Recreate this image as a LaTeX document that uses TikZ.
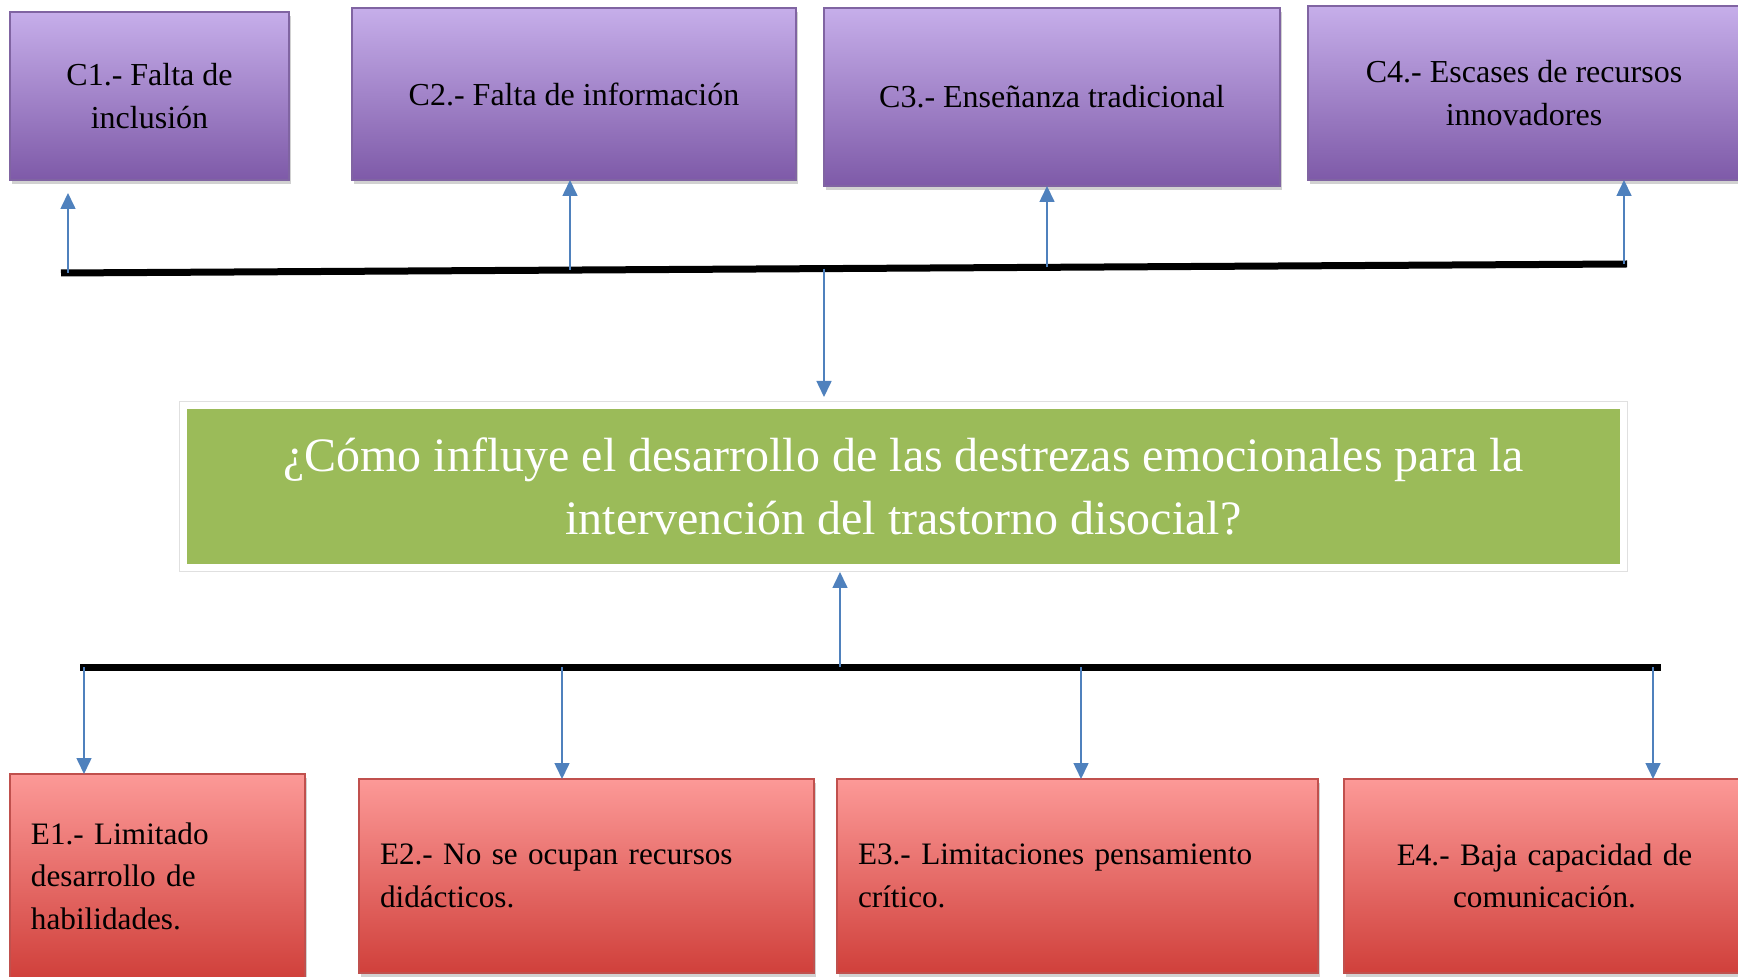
\documentclass[tikz,border=0pt]{standalone}
\usepackage{fontspec}
\setmainfont{Liberation Serif}
\usetikzlibrary{arrows.meta,shadows}
\definecolor{causetop}{HTML}{C6AEEA}
\definecolor{causebot}{HTML}{7E5AA8}
\definecolor{causeline}{HTML}{8064A2}
\definecolor{effecttop}{HTML}{FC9997}
\definecolor{effectbot}{HTML}{D0403B}
\definecolor{effectline}{HTML}{C0504D}
\definecolor{problemgreen}{HTML}{9BBB59}
\definecolor{arrowblue}{HTML}{4F81BD}
\tikzset{
  box/.style={rectangle, inner sep=0pt, outer sep=0pt, line width=0.75pt,
    font=\fontsize{16}{21.5}\selectfont,
    drop shadow={shadow xshift=0.8pt, shadow yshift=-2pt, opacity=0.3, fill=black!60}},
  cause/.style={box, draw=causeline, top color=causetop, bottom color=causebot, align=center},
  effect/.style={box, draw=effectline, top color=effecttop, bottom color=effectbot,
    align=left, inner xsep=10.5pt, font=\fontsize{15.6}{21.2}\selectfont},
  problem/.style={rectangle, inner sep=0pt, outer sep=0pt, draw=white, line width=3.5pt,
    preaction={draw=black!12, line width=4.3pt},
    fill=problemgreen, text=white, align=center, font=\fontsize{24}{31.5}\selectfont,
    drop shadow={shadow xshift=0.6pt, shadow yshift=-2pt, opacity=0.25}},
  bar/.style={line width=3.5pt, black},
  arr/.style={draw=arrowblue, line width=0.8pt, -{Triangle[width=7.5pt,length=8pt]}}
}
\begin{document}
\begin{tikzpicture}[x=0.5pt, y=-0.5pt]
  \clip (0,0) rectangle (1738,977);
  \node[cause, minimum width=139.5pt, minimum height=84pt] (c1) at (149.5,96) {C1.- Falta de\\inclusión};
  \node[cause, minimum width=222pt, minimum height=86pt] (c2) at (574,94) {C2.- Falta de información};
  \node[cause, minimum width=228pt, minimum height=89pt] (c3) at (1052,97) {C3.- Enseñanza tradicional};
  \node[cause, minimum width=216pt, minimum height=87pt] (c4) at (1524,93) {C4.- Escases de recursos\\innovadores};

  \node[problem, minimum width=720pt, minimum height=81pt] (p) at (903.5,486.5)
    {¿Cómo influye el desarrollo de las destrezas emocionales para la\\intervención del trastorno disocial?};

  \node[effect, text width=126.5pt, minimum height=102pt] (e1) at (157.5,876) {E1.- Limitado\\desarrollo de\\habilidades.};
  \node[effect, text width=206.5pt, minimum height=97pt] (e2) at (586.5,876) {E2.- No se ocupan recursos\\didácticos.};
  \node[effect, text width=219.5pt, minimum height=97pt] (e3) at (1077.5,876) {E3.- Limitaciones pensamiento\\crítico.};
  \node[effect, align=center, text width=179.5pt, minimum height=97pt] (e4) at (1544.5,876) {E4.- Baja capacidad de\\comunicación.};

  \coordinate (tl) at (61,273);
  \coordinate (tr) at (1627,264);
  \coordinate (a1) at (68,273);
  \coordinate (a2) at (570,270);
  \coordinate (a3) at (1047,267.3);
  \coordinate (a4) at (1624,264);
  \coordinate (m1) at (824,268.6);
  \draw[bar] (tl) -- (tr);
  \draw[arr, shorten >=6.5pt] (a1) -- (a1 |- c1.south);
  \draw[arr] (a2) -- (a2 |- c2.south);
  \draw[arr] (a3) -- (a3 |- c3.south);
  \draw[arr] (a4) -- (a4 |- c4.south);
  \draw[arr, shorten >=4.25pt] (m1) -- (m1 |- p.north);

  \coordinate (bl) at (80,667);
  \coordinate (br) at (1661,667);
  \coordinate (m2) at (840,667);
  \coordinate (b1) at (84,667);
  \coordinate (b2) at (562,667);
  \coordinate (b3) at (1081,667);
  \coordinate (b4) at (1653,667);
  \draw[bar] (bl) -- (br);
  \draw[arr, shorten >=2.25pt] (m2) -- (m2 |- p.south);
  \draw[arr] (b1) -- (b1 |- e1.north);
  \draw[arr] (b2) -- (b2 |- e2.north);
  \draw[arr] (b3) -- (b3 |- e3.north);
  \draw[arr] (b4) -- (b4 |- e4.north);
\end{tikzpicture}
\end{document}
